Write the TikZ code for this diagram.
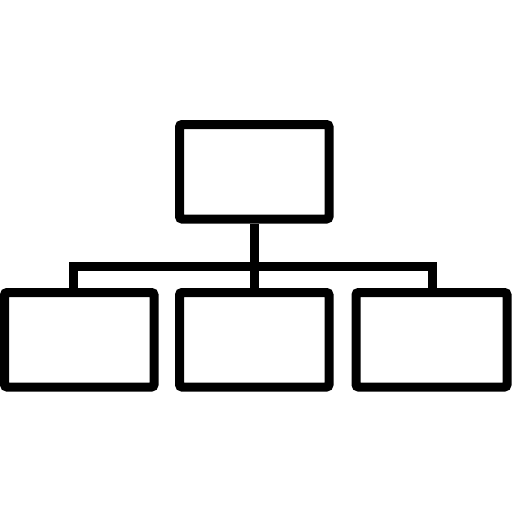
\documentclass[tikz,border=0pt]{standalone}
\usepackage{tikz}

\begin{document}
\begin{tikzpicture}[x = 1pt, y = -1pt, line width = 9pt,
    box/.style = {draw, rectangle, rounded corners = 2.5pt, minimum width = 149.5pt, minimum height = 94.5pt, inner sep = 0pt}]

    \useasboundingbox (0,0) rectangle (512,512);
    \node [box] (top) at (254.25, 171.75) {};
    \node [box, minimum width = 149.5pt] (left) at (79.25, 339.75) {};
    \node [box] (mid) at (254.25, 339.75) {};
    \node [box, minimum width = 151pt] (right) at (431.5, 339.75) {};
    \coordinate (jl) at (73.5, 266);
    \coordinate (jr) at (432, 266);
    \draw (top.south) -- (mid.north);
    \draw [line join = miter] (jl |- left.north) -- (jl) -- (jr) -- (jr |- right.north);
    \end{tikzpicture}
\end{document}
